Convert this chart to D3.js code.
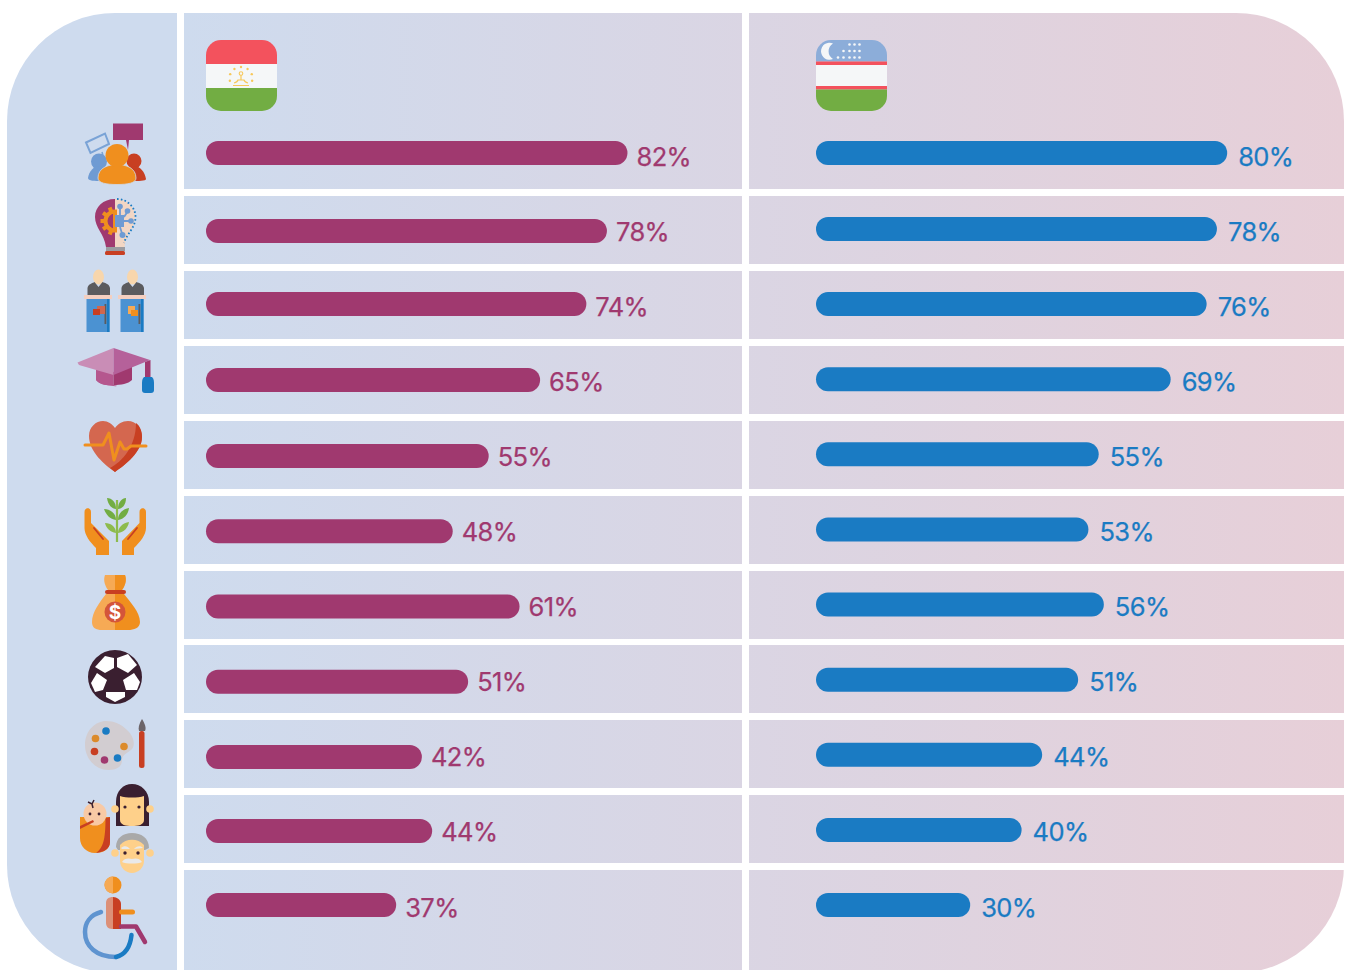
<!DOCTYPE html>
<html><head><meta charset="utf-8">
<script src="https://cdn.jsdelivr.net/npm/d3@7"></script>
<style>html,body{margin:0;padding:0;background:#fff}svg{display:block}</style></head>
<body><svg id="c" width="1350" height="970"></svg>
<script>
const categories=["civic","innovation","politics","education","health","environment","income","sport","culture","generations","disability"];
const tajikistan=[82,78,74,65,55,48,61,51,42,44,37];
const uzbekistan=[80,78,76,69,55,53,56,51,44,40,30];

const PURPLE="#a0396f",BLUE="#1a7bc3";
const svg=d3.select("#c");
const defs=svg.append("defs");
const grad=defs.append("linearGradient").attr("id","panel").attr("gradientUnits","userSpaceOnUse")
  .attr("x1",184).attr("x2",1344).attr("y1",0).attr("y2",0);
grad.append("stop").attr("offset",0).attr("stop-color","#cedbee");
grad.append("stop").attr("offset",1).attr("stop-color","#e7cfd8");
defs.append("clipPath").attr("id","outer").append("rect")
  .attr("x",7).attr("y",13).attr("width",1337).attr("height",960).attr("rx",108).attr("ry",108);

// panels
const rowEdges=[[13,189],[196,264],[271,339],[346,414],[421,489],[496,564],[571,639],[645,713],[720,788],[795,863],[870,973]];
const clip=svg.append("g").attr("clip-path","url(#outer)");
clip.append("rect").attr("x",7).attr("y",13).attr("width",170).attr("height",960).attr("fill","#cedbee");
[[184,742],[749,1344]].forEach(([a,b])=>{
  clip.append("g").selectAll("rect").data(rowEdges).join("rect")
    .attr("x",a).attr("width",b-a).attr("y",d=>d[0]).attr("height",d=>d[1]-d[0]).attr("fill","url(#panel)");
});

// scales
const pct=d3.scaleLinear().domain([0,100]).range([0,514]);
const leftY=d3.scaleLinear().domain([0,1,2,4,8,10]).range([153,231,304,456,757,905]);
const rightY=d3.scaleLinear().domain([0,1,10]).range([153,229,905]);
const labelY=d3.scaleLinear().domain([0,1,10]).range([156,231.5,907]);

function series(vals,x0,color,y,gap){
  const g=svg.append("g");
  g.selectAll("rect").data(vals).join("rect")
    .attr("x",x0).attr("y",(d,i)=>y(i)-12).attr("width",d=>pct(d)).attr("height",24)
    .attr("rx",12).attr("fill",color);
  g.selectAll("text").data(vals).join("text")
    .attr("x",d=>x0+pct(d)+gap).attr("y",(d,i)=>labelY(i)+9.5)
    .attr("font-family","Inter").attr("font-size",25.5).attr("font-weight",400).attr("letter-spacing",-0.6)
    .attr("stroke",color).attr("stroke-width",0.25).attr("fill",color)
    .text(d=>d+"%");
}
series(tajikistan,206,PURPLE,leftY,9);
series(uzbekistan,816,BLUE,rightY,11);

// flags
function flag(x,stripes,id){
  defs.append("clipPath").attr("id",id).append("rect").attr("x",x).attr("y",40).attr("width",71).attr("height",71).attr("rx",15);
  const g=svg.append("g").attr("clip-path",`url(#${id})`);
  stripes.forEach(([a,b,c])=>g.append("rect").attr("x",x).attr("width",71).attr("y",a).attr("height",b-a).attr("fill",c));
  return g;
}
const tj=flag(206,[[40,64,"#f3525d"],[64,88,"#f5f7f8"],[88,111,"#72ad43"]],"fTJ");
d3.range(7).forEach(i=>{
  const a=Math.PI*(0.92+ i*1.16/6);
  tj.append("circle").attr("cx",241+11.5*Math.cos(a)).attr("cy",78+11*Math.sin(a)).attr("r",1.2).attr("fill","#f7c85a");
});
tj.append("path").attr("d","M241 75v5M234 83q3.500-1 4-3h6q.5 2 4 3M233 85.5h16").attr("stroke","#f7c85a").attr("stroke-width",1.2).attr("fill","none");
tj.append("circle").attr("cx",241).attr("cy",73.500).attr("r",1.8).attr("fill","none").attr("stroke","#f7c85a").attr("stroke-width",1.1);
const uz=flag(816,[[40,61.5,"#8cadd9"],[61.500,65,"#f3525d"],[65,86,"#f5f7f8"],[86,89.5,"#f3525d"],[89.5,111,"#72ad43"]],"fUZ");
uz.append("path").attr("d","M833 43.5a8.5 8.500 0 1 0 0 15.500a9 9 0 0 1 0-15.500z").attr("fill","#f5f7f8");
[[849.5,854.5,859.5],[843.5,849.500,854.5,859.5],[838,843.5,849.5,854.500,859.5]].forEach((cols,r)=>{
  cols.forEach(x=>uz.append("circle").attr("cx",x).attr("cy",44.5+r*6.500).attr("r",1.3).attr("fill","#f5f7f8"));
});

// icons (pictograms, drawn in page coordinates)
const ic=svg.append("g");
const P=(d,f,o={})=>{const e=ic.append("path").attr("d",d).attr("fill",f||"none");Object.entries(o).forEach(([k,v])=>e.attr(k,v));return e;};
const C=(x,y,r,f,o={})=>{const e=ic.append("circle").attr("cx",x).attr("cy",y).attr("r",r).attr("fill",f);Object.entries(o).forEach(([k,v])=>e.attr(k,v));return e;};
const E=(x,y,rx,ry,f)=>ic.append("ellipse").attr("cx",x).attr("cy",y).attr("rx",rx).attr("ry",ry).attr("fill",f);
const R=(x,y,w,h,f,r=0)=>ic.append("rect").attr("x",x).attr("y",y).attr("width",w).attr("height",h).attr("rx",r).attr("fill",f);

// 1 civic
P("M113 123.5h30v16.5h-14l-1 10l-2-10h-13z","#a0396f");
P("M86 142.5L105 133.5L109 144L90.5 153z",null,{stroke:"#7aa3d6","stroke-width":2});
P("M102 152L104 159",null,{stroke:"#7aa3d6","stroke-width":1.5});
C(99,161.5,8,"#6f9bd3");
P("M88 178C89 171 94 166 99 166C103 166 106 170 108 173L101 181C95 181 88 181 88 178z","#6f9bd3");
C(134,161,7.5,"#c83f22");
P("M146 179C145 172 140 166 134 166C130 166 128 170 126 173L132 181C138 181 146 181 146 179z","#c83f22");
P("M98 178C98 168 108 164.5 117 164.5C126 164.5 136 168 136 178C136 183 128 184.5 117 184.5C106 184.5 98 183 98 178z","#f08f1e",{stroke:"#cedbee","stroke-width":0.8});
C(117,155.500,11.5,"#f08f1e");

// 2 innovation
P("M115 199C103 199 95 207 95 217C95 228 104 233 106 247H115z","#a0396f");
P("M115 199C127 199 135 207 135 217C135 228 126 233 124.5 247H115z","#f2d6c4");
P("M117 199C127 199 135.500 207 135.5 217C135.5 228 127 233 124 243",null,{stroke:"#1a7bc3","stroke-width":1.8,"stroke-dasharray":"1.6 2.2"});
P("M115 211.5a9.500 9.500 0 0 0 0 19z","none",{stroke:"#f08f1e","stroke-width":4});
d3.range(5).forEach(i=>{
  const a=Math.PI*(0.62+i*0.19);
  ic.append("rect").attr("x",-2).attr("y",-2).attr("width",4).attr("height",4).attr("fill","#f08f1e")
    .attr("transform",`translate(${115+12.5*Math.cos(a)},${221-12.5*Math.sin(a)}) rotate(${-a*180/Math.PI})`);
});
R(115,215,9,12,"#6f9bd3");
P("M120 215V206M124 217L128 211M124 221H131M120 227L122.5 235",null,{stroke:"#6f9bd3","stroke-width":1.8});
[[120,206.5,2.8],[127.5,211,2.8],[131,221,2.8],[122.5,235,3]].forEach(([x,y,r])=>C(x,y,r,"#6f9bd3"));
R(106,247,19,4,"#9b9ba0");
R(105,251,20,4,"#c83f22",1.5);

// 3 politics
[0,34].forEach((dx,i)=>{
  E(98.5+dx,277,5.5,7.5,"#f8d6ac");
  ic.append("path").attr("transform",`translate(${dx},0)`).attr("d","M87.500 295V288C88 284 93 283 94.5 282L98.5 287L102.5 282C105 283 109.5 284 110 288V295z").attr("fill","#5b5b5e");
  R(84+dx,295,28,4,"#f4cfc0");
  R(86.5+dx,299,23,33,"#4b92d2");
  R(107+dx,299,2.5,33,"#1a7bc3");
  R(104.5+dx,304,1.8,20,"#5b5b5e");
  if(i===0){R(97,306,8,8,"#d0674e");R(93,309,7,6,"#c83f22");}
  else{R(128,306,7,8,"#f6aa55");R(131,310,7,6,"#f08f1e");}
});

// 4 education
P("M96 368V380C101 387 126 387 113.500 385z","#b5578e");
P("M96 366V380C101 386 108 385 113.5 385V372z","#b5578e");
P("M113.5 372V385C121 385 128 384 132 380V366z","#a0396f");
P("M77.5 362.5L113.5 348L113.5 375L79 365z","#c98db6");
P("M113.5 348L150 360L113.5 375z","#b5619a");
P("M145 362L150.5 360V378H145z","#a0396f");
P("M144 377H152C154 379 154 381 154 385V390C154 392 153 393 151 393H145C143 393 142 392 142 390V385C142 381 142 379 144 377z","#1a7bc3");

// 5 health
P("M115 472C105 465 89 452 89 436C89 427 96 421 103 421C108 421 112 424 115 428C118 424 122 421 128 421C136 421 142 428 142 437C142 452 125 465 115 472z","#d4674f");
P("M136 423C140 426 142 431 142 437C142 452 125 465 115 472L110 468C122 462 136 446 136 423z","#c83f22");
P("M85 445H103L109 433L114 460L120 442L124 449H127L131 446H146",null,{stroke:"#f08f1e","stroke-width":3,"stroke-linejoin":"round","stroke-linecap":"round"});

// 6 environment
P("M117 500V542",null,{stroke:"#8dbb4d","stroke-width":2.2});
P("M116 509C112 509 108 505 107 498C112 498 116 502 116 509z","#72ad43");
P("M118 509C122 509 126 505 126 498C122 498 118 502 118 509z","#72ad43");
P("M116 520C110 519 106 515 104 509C110 509 116 513 116 520z","#72ad43");
P("M118 520C124 519 128 515 129 508C123 509 118 513 118 520z","#72ad43");
P("M116 533C110 532 106 528 105 523C111 523 116 527 116 533z","#8dbb4d");
P("M118 533C124 532 128 528 129 522C123 523 118 527 118 533z","#8dbb4d");
P("M84.5 512C84.5 507 91 507 91 512V523L109 541V555H96V548C90 542 84.5 535 84.5 528z","#f08f1e");
P("M146 512C146 507 139.500 507 139.5 512V523L122 541V555H134V548C140 542 146 535 146 528z","#f08f1e");
P("M94 528L103 539M137 528L128 539",null,{stroke:"#c83f22","stroke-width":1.8,"stroke-linecap":"round"});

// 7 income
P("M105 575H125C127 580 125 586 122 590H108C105 586 103 580 105 575z","#f6aa55");
P("M115 575H125C127 580 125 586 122 590H115z","#f08f1e");
P("M106 594C100 602 92 612 92 622C92 628 96 630 102 630H115V594z","#f6aa55");
P("M124 594C130 602 140 612 140 622C140 628 134 630 128 630H115V594z","#f08f1e");
R(105,590,21,4,"#c83f22",2);
C(115,612,10.5,"#d4553a");
ic.append("text").attr("x",115).attr("y",619).attr("text-anchor","middle").attr("font-family","Inter").attr("font-weight",700).attr("font-size",19).attr("fill","#fff").text("$");

// 8 sport
C(115,677,27,"#3a1f30");
[["105,656 114,658 114,668 105,673 95,667"],["117,658 128,654 137,665 128,673 117,667"],["97,673 107,680 103,690 95,692 91,683"],["123,680 134,673 140,682 137,690 126,690"],["106,692 125,692 125,697 115,702 106,697"]].forEach(([pts])=>{
  ic.append("polygon").attr("points",pts).attr("fill","#fff");
});

// 9 culture
P("M106 721C96 721 85 730 85 745C85 760 97 770 108 770C118 770 122 766 122 760C122 755 127 753 131 750C136 746 134 736 127 730C121 724 114 721 106 721z","#d2cdd1");
[[106,731,"#1a7bc3"],[95.5,738.5,"#dc8a2a"],[94.5,751.5,"#c83f22"],[104.5,760,"#a0396f"],[117.5,758,"#1a7bc3"],[124,746.5,"#dc8a2a"]].forEach(([x,y,c])=>C(x,y,3.8,c));
P("M142 719C145 724 146.500 728 145 731H139C138 728 139 724 142 719z","#6c6468");
R(139,731,5.5,37,"#c83f22",2.5);

// 10 generations
P("M80 817H110V842C110 850 102 853 95 853C86 853 80 846 80 838z","#f08f1e");
P("M110 817V842C110 849 104 852 96 853C103 848 105.5 840 105.5 818z","#c83f22");
C(95,814,11.5,"#f8c9a5");
P("M80 826L93 820L94 822L80 829z","#c83f22");
P("M88 802L92 804L94 800M92 804L93 808",null,{stroke:"#3a1f30","stroke-width":1.5});
C(90,814,1.4,"#3a1f30");C(99,814,1.4,"#3a1f30");
P("M116 826V802C116 791 123 784 132 784C141 784 149 791 149 802V826z","#3a1f30");
C(115,809,3.8,"#fed08a");C(150,809,3.8,"#fed08a");
P("M120 796C126 798 138 798 144 796V820C144 825 138 826 132 826C126 826 120 825 120 820z","#fed08a");
C(125,807,1.6,"#3a1f30");C(139,807,1.6,"#3a1f30");
P("M116 847C116 838 123 833 132 833C141 833 149 838 149 848L145 850H118z","#a9a9a9");
C(115,853,3.8,"#fed08a");C(150,853,3.8,"#fed08a");
P("M120 845C126 838 138 838 144 845V861C144 868 138 873 132 873C126 873 120 868 120 861z","#fed08a");
P("M121 848C124 845 128 846 130 849L122 849zM134 849C136 846 141 845 143 848z","#e9e9e9");
C(125,853,1.7,"#3a1f30");C(138,853,1.7,"#3a1f30");
P("M122 862C124 858 129 858 132 859C135 858 140 858 142 862C138 864 126 864 122 862z","#e9e9e9");

// 11 disability
C(113,885,8.5,"#f08f1e");
P("M113 876.5a8.500 8.500 0 0 0 0 17z","#f6aa55");
P("M113 897C108.500 897 106 899 106 903V923C106 926 108 929 112 929H113z","#dc9078");
P("M113 897C117 897 121 900 121 904V929H113z","#c83f22");
R(119,909.5,16,5,"#f08f1e",2.5);
P("M121 926.5H136L145 942",null,{stroke:"#a0396f","stroke-width":4.5,"stroke-linecap":"round","stroke-linejoin":"round"});
P("M101 912C90 915 85 923 85 932C85 946 96 957 116 957",null,{stroke:"#5f94d0","stroke-width":4.5,"stroke-linecap":"round"});
P("M116 957C124 955 130 949 131.5 935",null,{stroke:"#1a7bc3","stroke-width":4.5,"stroke-linecap":"round"});
</script></body></html>
